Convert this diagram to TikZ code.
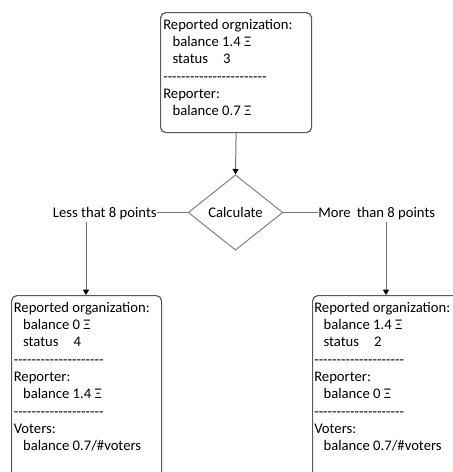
\documentclass[tikz,border=0pt]{standalone}
\usepackage{fontspec}
\setmainfont{Carlito}[Ligatures=TeXOff]
\usetikzlibrary{shapes.geometric,arrows.meta,calc}
\newcommand\hyrow[1]{\foreach \i in {1,...,#1}{-\kern0pt}}
\newcommand\ind{\hspace*{7pt}}
\newcommand\stat[1]{\ind\makebox[38pt][l]{status}#1}
\begin{document}
\begin{tikzpicture}[x=0.75pt,y=-0.75pt,
  boxshape/.style={draw=black!65, line width=0.9pt, rounded corners=4pt, anchor=north west, inner sep=0pt},
  txt/.style={anchor=base west, inner sep=0pt, font=\fontsize{11}{13}\selectfont, text=black},
  lbl/.style={inner sep=0pt, font=\fontsize{11}{13}\selectfont, text=black},
  conn/.style={draw=black!55, line width=0.75pt},
  arr/.style={conn, -{Triangle[length=4pt,width=4.5pt,color=black]}}]
\useasboundingbox (0,0) rectangle (453,472);
\clip (0,0) rectangle (453,472);
% boxes
\node[boxshape, minimum width=113.25pt, minimum height=90pt] (tb) at (160,12) {};
\node[boxshape, minimum width=112.5pt, minimum height=142pt] (lb) at (11,295) {};
\node[boxshape, minimum width=112.5pt, minimum height=142pt] (rb) at (312,295) {};
% box texts
\node[txt] (tbt) at ($(tb.north west)+(3,17)$) {\parbox[t]{110pt}{%
Reported orgnization:\\
\ind balance 1.4 Ξ\\
\stat{3}\\
\hyrow{23}\\
Reporter:\\
\ind balance 0.7 Ξ}};
\node[txt] (lbt) at ($(lb.north west)+(2.5,17)$) {\parbox[t]{110pt}{%
Reported organization:\\
\ind balance 0 Ξ\\
\stat{4}\\
\hyrow{20}\\
Reporter:\\
\ind balance 1.4 Ξ\\
\hyrow{20}\\
Voters:\\
\ind balance 0.7/\#voters}};
\node[txt] (rbt) at ($(rb.north west)+(2,17)$) {\parbox[t]{110pt}{%
Reported organization:\\
\ind balance 1.4 Ξ\\
\stat{2}\\
\hyrow{20}\\
Reporter:\\
\ind balance 0 Ξ\\
\hyrow{20}\\
Voters:\\
\ind balance 0.7/\#voters}};
% decision
\node[diamond, draw=black!50, line width=0.75pt, minimum width=71pt, minimum height=56.5pt, inner sep=0pt, font=\fontsize{11}{13}\selectfont] (calc) at (235.5,212.5) {Calculate};
\node[lbl, anchor=east] (less) at (157,213.3) {Less that 8 points};
\node[lbl, anchor=west] (more) at (318,213.3) {More\hspace{4.5pt}than 8 points};
% connectors
\draw[arr] (tb.south) -- (calc.north);
\draw[conn] (calc.west -| less.east) -- (calc.west);
\draw[conn] (calc.east) -- (calc.east -| more.west);
\coordinate (lv) at (86,222);
\coordinate (rv) at (386,222);
\draw[arr] (lv) -- (lv |- lb.north);
\draw[arr] (rv) -- (rv |- rb.north);
\end{tikzpicture}
\end{document}
